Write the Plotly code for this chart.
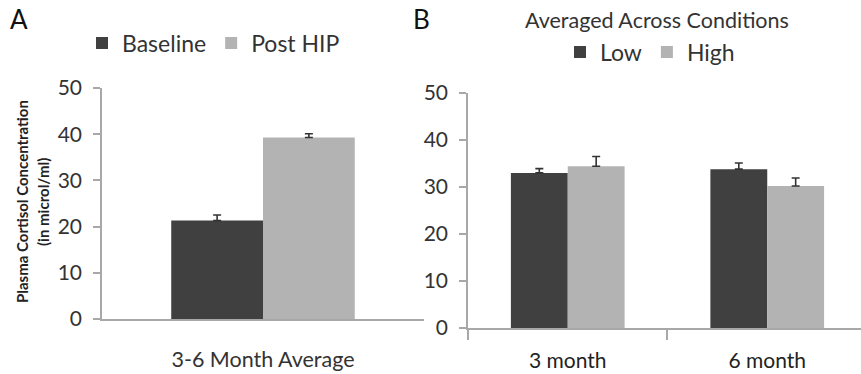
import plotly.graph_objects as go

W, H = 861, 374
FONT = "Lato"

# Panel A data
cat_a = ["3-6 Month Average"]
baseline = [21.3]
baseline_err = [1.2]
post_hip = [39.3]
post_hip_err = [0.8]

# Panel B data
cat_b = ["3 month", "6 month"]
low = [33.0, 33.8]
low_err = [0.9, 1.3]
high = [34.4, 30.2]
high_err = [2.1, 1.7]

y_ticks = [0, 10, 20, 30, 40, 50]

DARK = "#404040"
LIGHT = "#b3b3b3"
AXIS = "#a8a8a8"
ERR = "#333333"

fig = go.Figure()

def bar(x, y, err, name, color, xa, ya, legend):
    return go.Bar(
        x=x, y=y, name=name, marker=dict(color=color, line=dict(width=0)),
        error_y=dict(type="data", array=err, symmetric=False, arrayminus=[0] * len(err),
                     color=ERR, thickness=1.6, width=4),
        xaxis=xa, yaxis=ya, legend=legend,
    )

fig.add_trace(bar(cat_a, baseline, baseline_err, "Baseline", DARK, "x", "y", "legend"))
fig.add_trace(bar(cat_a, post_hip, post_hip_err, "Post HIP", LIGHT, "x", "y", "legend"))
fig.add_trace(bar(cat_b, low, low_err, "Low", DARK, "x2", "y2", "legend2"))
fig.add_trace(bar(cat_b, high, high_err, "High", LIGHT, "x2", "y2", "legend2"))

yax_common = dict(
    range=[0, 50], tickvals=y_ticks, showgrid=False, zeroline=False,
    showline=True, linecolor=AXIS, linewidth=1.5,
    ticks="outside", ticklen=7, tickcolor=AXIS, tickwidth=1.5,
    automargin=False,
)

fig.update_layout(
    template="none",
    width=W, height=H,
    margin=dict(l=0, r=0, t=0, b=0, autoexpand=False),
    paper_bgcolor="white", plot_bgcolor="white",
    barmode="group", bargap=0.43, bargroupgap=0,
    font=dict(family=FONT, color="#222222"),
    xaxis=dict(domain=[102 / W, 424 / W], range=[-0.5, 0.5], anchor="y",
               showline=True, linecolor=AXIS, linewidth=1.5, ticks="",
               showgrid=False, zeroline=False, automargin=False,
               tickfont=dict(size=21.5, color="#333333"),
               ticklabelstandoff=20),
    yaxis=dict(domain=[1 - 319 / H, 1 - 88 / H], anchor="x",
               tickfont=dict(size=21, color="#333333"), ticklabelstandoff=7,
               **yax_common),
    xaxis2=dict(domain=[468 / W, 1.0], range=[-0.5, 1.47], anchor="y2",
                showline=True, linecolor=AXIS, linewidth=1.5,
                ticks="outside", tickson="boundaries", ticklen=10, tickcolor=AXIS, tickwidth=1.5,
                showgrid=False, zeroline=False, automargin=False,
                tickfont=dict(size=21, color="#222222"),
                ticklabelstandoff=13),
    yaxis2=dict(domain=[1 - 328 / H, 1 - 93 / H], anchor="x2",
                tickfont=dict(size=21, color="#333333"), ticklabelstandoff=7,
                **yax_common),
    legend=dict(orientation="h", x=82 / W, y=1 - 43 / H, xanchor="left", yanchor="middle",
                font=dict(size=23, color="#333333"), bgcolor="rgba(0,0,0,0)"),
    legend2=dict(orientation="h", x=560 / W, y=1 - 52 / H, xanchor="left", yanchor="middle",
                 font=dict(size=23, color="#333333"), bgcolor="rgba(0,0,0,0)"),
    showlegend=True,
)

annotations = [
    dict(text="A", x=8 / W, y=1 - 19 / H, xanchor="left", yanchor="middle",
         font=dict(size=26, color="#111111")),
    dict(text="B", x=411 / W, y=1 - 19 / H, xanchor="left", yanchor="middle",
         font=dict(size=26, color="#111111")),
    dict(text="Averaged Across Conditions", x=657 / W, y=1 - 20 / H,
         xanchor="center", yanchor="middle", font=dict(size=21.5, color="#333333")),
    dict(text="<b>Plasma Cortisol Concentration</b>", x=22 / W, y=1 - 202 / H,
         xanchor="center", yanchor="middle", textangle=-90,
         font=dict(size=15, color="#222222")),
    dict(text="<b>(in microl/ml)</b>", x=43 / W, y=1 - 202 / H,
         xanchor="center", yanchor="middle", textangle=-90,
         font=dict(size=15, color="#222222")),
]
for a in annotations:
    a.update(xref="paper", yref="paper", showarrow=False)
fig.update_layout(annotations=annotations)

fig.write_html(
    "out.html",
    config={"displayModeBar": False},
    post_script="document.body.style.margin='0';document.body.style.overflow='hidden';",
)
